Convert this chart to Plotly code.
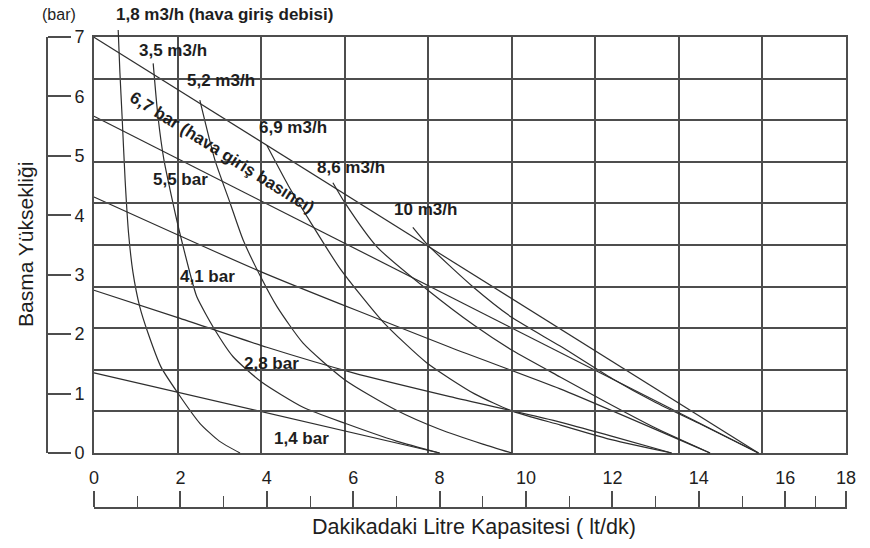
import plotly.graph_objects as go

W, H = 870, 548

# ---------------- data ----------------
x_tick_labels = ["0", "2", "4", "6", "8", "10", "12", "14", "16", "18"]
x_tick_values = [0, 2, 4, 6, 8, 10, 12, 14, 16, 17.41]
x_minor_values = [1, 3, 5, 7, 9, 11, 13, 15, 16.69]
y_tick_values = [0, 1, 2, 3, 4, 5, 6, 7]

# air pressure lines (bar)
p67_x = [0.0, 15.38]
p67_y = [7.0, 0.0]
p55_x = [0.0, 15.38]
p55_y = [5.67, 0.0]
p41_x = [0.0, 3.87, 8.24, 10.79, 14.26]
p41_y = [4.31, 3.05, 1.78, 1.08, 0.0]
p28_x = [0.0, 1.94, 4.0, 6.0, 8.24, 10.79, 12.0, 13.37]
p28_y = [2.74, 2.28, 1.78, 1.35, 0.95, 0.52, 0.28, 0.0]
p14_x = [0.0, 8.0]
p14_y = [1.35, 0.0]

# air flow curves (m3/h)
f18_x = [0.56, 0.60, 0.65, 0.72, 0.80, 0.90, 1.06, 1.25, 1.55, 1.94, 2.45, 2.90, 3.38]
f18_y = [7.12, 6.40, 5.67, 4.60, 3.70, 3.05, 2.46, 2.02, 1.45, 1.01, 0.50, 0.20, 0.0]
f35_x = [1.37, 1.48, 1.62, 1.80, 1.97, 2.22, 2.38, 2.80, 3.22, 3.87, 4.84, 5.81, 7.0, 8.0]
f35_y = [6.56, 5.67, 4.93, 4.30, 3.75, 3.03, 2.63, 2.07, 1.62, 1.20, 0.77, 0.50, 0.20, 0.0]
f52_x = [2.45, 2.80, 3.15, 3.45, 3.87, 4.24, 4.84, 5.81, 7.0, 8.0, 9.0, 9.67]
f52_y = [5.94, 4.93, 4.21, 3.59, 2.95, 2.46, 1.85, 1.23, 0.72, 0.40, 0.15, 0.0]
f69_x = [4.0, 4.5, 5.0, 5.7, 6.7, 7.7, 8.8, 9.7, 10.8, 12.0, 13.37]
f69_y = [5.18, 4.50, 3.90, 3.10, 2.20, 1.52, 1.00, 0.70, 0.47, 0.22, 0.0]
f86_x = [5.53, 5.81, 6.55, 7.73, 8.8, 9.7, 10.79, 12.0, 13.0, 14.26]
f86_y = [4.55, 4.21, 3.47, 2.74, 2.15, 1.72, 1.28, 0.80, 0.42, 0.0]
f10_x = [7.38, 7.73, 8.77, 9.68, 10.79, 12.0, 13.0, 14.0, 15.38]
f10_y = [3.80, 3.50, 2.80, 2.28, 1.80, 1.25, 0.85, 0.50, 0.0]

series = [
    (p67_x, p67_y), (p55_x, p55_y), (p41_x, p41_y), (p28_x, p28_y), (p14_x, p14_y),
    (f18_x, f18_y), (f35_x, f35_y), (f52_x, f52_y), (f69_x, f69_y), (f86_x, f86_y), (f10_x, f10_y),
]

# ---------------- geometry helpers ----------------
def px(xp):
    return xp / W

def py(yp):
    return 1 - yp / H

X0, XPU = 94.0, 43.2      # pixel of x=0, pixels per unit
Y0, YPU = 453.0, 59.4     # pixel of y=0, pixels per unit
GRID_L, GRID_R, GRID_T, GRID_B = 94, 846, 37, 453
X_END = 17.42
LINE = "#4d4d4d"
CURVE = "#2e2e2e"
TXT = "#1e1e1e"
FONT = "Liberation Sans, Arial, sans-serif"

fig = go.Figure()

# grid subplot (x / y)
fig.add_trace(go.Scatter(x=[None], y=[None], xaxis="x", yaxis="y", showlegend=False, hoverinfo="skip"))
# y bracket axis (x / y3)
fig.add_trace(go.Scatter(x=[None], y=[None], xaxis="x", yaxis="y3", showlegend=False, hoverinfo="skip"))
# bottom axis (x3 / y)
fig.add_trace(go.Scatter(x=[None], y=[None], xaxis="x3", yaxis="y", showlegend=False, hoverinfo="skip"))

# data curves on x2 / y2
for sx, sy in series:
    fig.add_trace(go.Scatter(
        x=sx, y=sy, mode="lines", xaxis="x2", yaxis="y2",
        line=dict(color=CURVE, width=1.2, shape="spline", smoothing=0.6),
        showlegend=False, hoverinfo="skip"))

dl, dr, dt, db = 90, 850, 20, 456

fig.update_layout(
    template="none",
    width=W, height=H, autosize=False,
    margin=dict(l=0, r=0, t=0, b=0, pad=0),
    paper_bgcolor="white", plot_bgcolor="rgba(0,0,0,0)",
    font=dict(family=FONT, color=TXT),
    showlegend=False, hovermode=False,
    xaxis=dict(domain=[px(GRID_L), px(GRID_R)], range=[0, 9], dtick=1, tick0=0,
               showgrid=True, gridcolor=LINE, gridwidth=1.7, showticklabels=False, ticks="",
               zeroline=False, showline=True, mirror=True, linecolor=LINE, linewidth=1.7,
               anchor="y", fixedrange=True, automargin=False),
    yaxis=dict(domain=[py(GRID_B), py(GRID_T)], range=[0, 10], dtick=1, tick0=0,
               showgrid=True, gridcolor=LINE, gridwidth=1.7, showticklabels=False, ticks="",
               zeroline=False, showline=True, mirror=True, linecolor=LINE, linewidth=1.7,
               anchor="x", fixedrange=True, automargin=False),
    xaxis2=dict(domain=[px(dl), px(dr)], range=[(dl - X0) / XPU, (dr - X0) / XPU],
                visible=False, anchor="y2", fixedrange=True, automargin=False),
    yaxis2=dict(domain=[py(db), py(dt)], range=[(Y0 - db) / YPU, (Y0 - dt) / YPU],
                visible=False, anchor="x2", fixedrange=True, automargin=False),
    yaxis3=dict(domain=[py(GRID_B), py(GRID_T)], range=[0, 7], anchor="free", position=px(47),
                side="right", showline=True, linecolor=LINE, linewidth=1.6,
                ticks="outside", ticklen=23, tickwidth=1.6, tickcolor=LINE,
                tickmode="array", tickvals=y_tick_values, tickfont=dict(size=18, color=TXT),
                showgrid=False, zeroline=False, fixedrange=True, automargin=False),
    xaxis3=dict(domain=[px(X0), px(X0 + X_END * XPU)], range=[0, X_END], anchor="free",
                position=py(508), side="top", showline=True, linecolor=LINE, linewidth=1.6,
                ticks="outside", ticklen=16, tickwidth=1.6, tickcolor=LINE,
                tickmode="array", tickvals=x_tick_values, ticktext=x_tick_labels,
                tickfont=dict(size=18, color=TXT),
                minor=dict(tickmode="array", tickvals=x_minor_values, ticks="outside",
                           ticklen=11, tickwidth=1.4, tickcolor=LINE, showgrid=False),
                showgrid=False, zeroline=False, fixedrange=True, automargin=False),
)

def label(text, xp, yp, size=17, bold=True, angle=0):
    fig.add_annotation(
        x=px(xp), y=py(yp), xref="paper", yref="paper", text=(f"<b>{text}</b>" if bold else text),
        showarrow=False, xanchor="center", yanchor="middle", textangle=angle,
        font=dict(size=size, color=TXT, family=FONT))

label("(bar)", 59, 15, size=16, bold=False)
label("1,8 m3/h (hava giriş debisi)", 224, 14, size=17)
label("3,5 m3/h", 173, 50)
label("5,2 m3/h", 221, 80)
label("6,9 m3/h", 293, 128)
label("8,6 m3/h", 351, 167)
label("10 m3/h", 425, 210)
label("5,5 bar", 180, 180)
label("4,1 bar", 207, 276)
label("2,8 bar", 271, 363)
label("1,4 bar", 301, 438)
label("6,7 bar (hava giriş basıncı)", 222, 153, angle=32)
label("Basma Yüksekliği", 25, 245, size=21, bold=False, angle=-90)
label("Dakikadaki Litre Kapasitesi ( lt/dk)", 474, 527, size=21.5, bold=False)

# remove the browser's default 8px page margin so the figure sits at the window corner
fig.write_html("out.html",
               config={"displayModeBar": False},
               post_script="document.body.style.margin='0';document.body.style.padding='0';")
